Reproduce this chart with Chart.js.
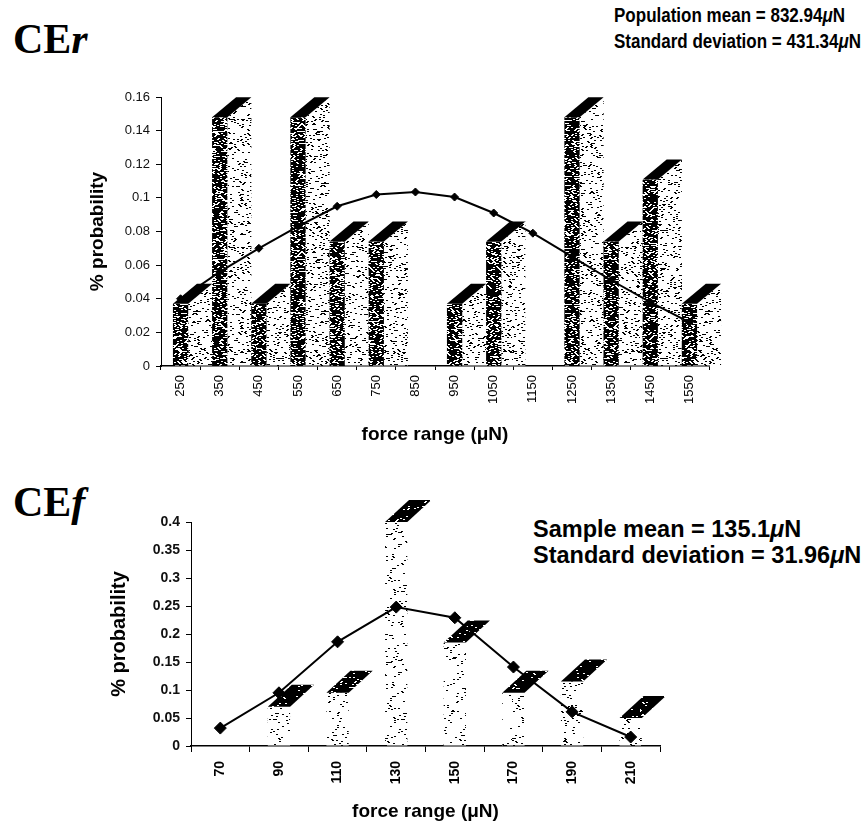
<!DOCTYPE html>
<html>
<head>
<meta charset="utf-8">
<title>Force distributions</title>
<script src="https://cdn.jsdelivr.net/npm/chart.js@4.4.1/dist/chart.umd.min.js"></script>
<style>
  html, body { margin: 0; padding: 0; background: #fff; }
  #page { position: relative; width: 866px; height: 825px; overflow: hidden; font-family: "Liberation Sans", Arial, sans-serif; color: #000; }
  .panelTag { position: absolute; left: 13px; font-family: "Liberation Serif", "Times New Roman", serif; font-weight: bold; font-size: 42px; line-height: 1; }
  .stats { position: absolute; font-weight: bold; white-space: nowrap; }
  .statsR { left: 614px; top: 2px; font-size: 21px; line-height: 26px; transform: scaleX(0.81); transform-origin: left top; }
  .statsF { left: 533px; top: 516px; font-size: 23.5px; line-height: 26px; }
  canvas { position: absolute; left: 0; }
</style>
</head>
<body>
<div id="page">
  <div class="panelTag" style="top:18px">CE<i>r</i></div>
  <div class="stats statsR">Population mean = 832.94<i>μ</i>N<br>Standard deviation = 431.34<i>μ</i>N</div>
  <canvas id="chartCEr" width="866" height="460" style="top:0"></canvas>

  <div class="panelTag" style="top:481px">CE<i>f</i></div>
  <div class="stats statsF">Sample mean = 135.1<i>μ</i>N<br>Standard deviation = 31.96<i>μ</i>N</div>
  <canvas id="chartCEf" width="866" height="365" style="top:460px"></canvas>
</div>

<script>
/* CEr: force bins, observed probability and fitted normal curve */
const binsR = ['250', '350', '450', '550', '650', '750', '850', '950', '1050', '1150', '1250', '1350', '1450', '1550'];
const probR = [0.037, 0.148, 0.037, 0.148, 0.074, 0.074, 0, 0.037, 0.074, 0, 0.148, 0.074, 0.111, 0.037];
const curveR = [0.040, 0.056, 0.070, 0.083, 0.095, 0.102, 0.1035, 0.1005, 0.091, 0.079, 0.065, 0.051, 0.038, 0.026];

/* CEf */
const binsF = ['70', '90', '110', '130', '150', '170', '190', '210'];
const probF = [0, 0.07, 0.095, 0.4, 0.185, 0.095, 0.115, 0.05];
const curveF = [0.032, 0.095, 0.186, 0.248, 0.229, 0.141, 0.061, 0.016];

Chart.defaults.font.family = '"Liberation Sans", Arial, sans-serif';
Chart.defaults.color = '#000';

/* deterministic speckle texture for the printed look of the bars */
function mix(h) {
    h ^= h >>> 16;
    h = Math.imul(h, 0x7feb352d);
    h ^= h >>> 15;
    h = Math.imul(h, 0x846ca68b);
    h ^= h >>> 16;
    return h >>> 0;
}

function hash(x, y, seed) {
    return mix(x + mix(y + mix(seed))) / 4294967296;
}

function stipple(bg, ink, density, seed) {
    const size = 128;
    const c = document.createElement('canvas');
    c.width = c.height = size;
    const g = c.getContext('2d');
    const img = g.createImageData(size, size);
    for (let y = 0; y < size; y++) {
        for (let x = 0; x < size; x++) {
            const on = hash((x + (y % 2)) >> 1, y, seed) < density;
            const v = on ? ink : bg;
            const i = (y * size + x) * 4;
            img.data[i] = img.data[i + 1] = img.data[i + 2] = v;
            img.data[i + 3] = 255;
        }
    }
    g.putImageData(img, 0, 0);
    return g.createPattern(c, 'repeat');
}

/* draws a side face and a slanted top on every bar */
const bar3d = {
    id: 'bar3d',
    beforeDatasetsDraw(chart, args, opts) {
        if (!opts.sideFill) return;
        const ctx = chart.ctx;
        chart.getSortedVisibleDatasetMetas().forEach(meta => {
            if (meta.type !== 'bar') return;
            meta.data.forEach(bar => {
                const { x, y, base, width } = bar.getProps(['x', 'y', 'base', 'width'], true);
                if (base - y < 0.5) return;
                const xr = x + width / 2;
                ctx.save();
                ctx.fillStyle = opts.sideFill;
                ctx.beginPath();
                ctx.moveTo(xr, y);
                ctx.lineTo(xr + opts.dx, y - opts.dy);
                ctx.lineTo(xr + opts.dx, base);
                ctx.lineTo(xr, base);
                ctx.closePath();
                ctx.fill();
                ctx.restore();
            });
        });
    },
    afterDatasetDraw(chart, args, opts) {
        if (args.meta.type !== 'bar') return;
        const ctx = chart.ctx;
        args.meta.data.forEach(bar => {
            const { x, y, base, width } = bar.getProps(['x', 'y', 'base', 'width'], true);
            if (base - y < 0.5) return;
            const xl = x - width / 2, xr = x + width / 2;
            ctx.save();
            ctx.fillStyle = opts.topFill;
            ctx.beginPath();
            ctx.moveTo(xl, y);
            ctx.lineTo(xr, y);
            ctx.lineTo(xr + opts.dx, y - opts.dy);
            ctx.lineTo(xl + opts.dx, y - opts.dy);
            ctx.closePath();
            ctx.fill();
            ctx.restore();
        });
    }
};

const tickText = v => String(+Number(v).toFixed(2));

function buildChart(id, cfg) {
    return new Chart(document.getElementById(id), {
        data: {
            labels: cfg.labels,
            datasets: [{
                type: 'line',
                data: cfg.curve,
                order: 0,
                borderColor: '#000',
                borderWidth: 2,
                tension: 0,
                pointStyle: 'rectRot',
                pointRadius: cfg.pointRadius,
                pointBackgroundColor: '#000',
                pointBorderColor: '#000',
                pointBorderWidth: 1
            }, {
                type: 'bar',
                data: cfg.probs,
                order: 1,
                backgroundColor: cfg.frontFill,
                borderWidth: 0,
                barPercentage: cfg.barPct,
                categoryPercentage: 1
            }]
        },
        options: {
            responsive: false,
            animation: false,
            devicePixelRatio: 1,
            layout: { padding: cfg.padding },
            plugins: {
                legend: { display: false },
                tooltip: { enabled: false },
                bar3d: cfg.faces
            },
            scales: {
                x: {
                    type: 'category',
                    offset: true,
                    border: { display: true, color: '#000', width: 1.5 },
                    grid: { display: true, drawOnChartArea: false, offset: true, tickLength: cfg.xTick, color: '#000' },
                    ticks: {
                        autoSkip: false,
                        minRotation: 90,
                        maxRotation: 90,
                        padding: cfg.xPad,
                        color: '#000',
                        font: cfg.xFont
                    },
                    title: {
                        display: true,
                        text: 'force range (μN)',
                        color: '#000',
                        padding: 0,
                        font: { size: 19, weight: 'bold' }
                    },
                    afterFit: s => { s.height = cfg.xHeight; }
                },
                y: {
                    min: 0,
                    max: cfg.yMax,
                    border: { display: true, color: '#000', width: 1 },
                    grid: { display: true, drawOnChartArea: false, tickLength: 5, color: '#000' },
                    ticks: {
                        stepSize: cfg.yStep,
                        padding: 6,
                        color: '#111',
                        font: cfg.yFont,
                        callback: tickText
                    },
                    title: {
                        display: true,
                        text: '% probability',
                        color: '#000',
                        padding: 0,
                        font: { size: cfg.yTitleSize, weight: 'bold' }
                    },
                    afterFit: s => { s.width = cfg.yWidth; }
                }
            }
        },
        plugins: [bar3d]
    });
}

buildChart('chartCEr', {
    labels: binsR,
    probs: probR,
    curve: curveR,
    pointRadius: 4,
    barPct: 0.39,
    frontFill: stipple(0, 255, 0.28, 7),
    faces: { dx: 24, dy: 20, sideFill: stipple(255, 0, 0.13, 11), topFill: '#000' },
    padding: { left: 86, right: 157, top: 97, bottom: 14 },
    xTick: 4, xPad: 5, xHeight: 80,
    xFont: { size: 13 },
    yMax: 0.16, yStep: 0.02, yWidth: 75,
    yFont: { size: 13 },
    yTitleSize: 19
});

buildChart('chartCEf', {
    labels: binsF,
    probs: probF,
    curve: curveF,
    pointRadius: 6,
    barPct: 0.38,
    frontFill: stipple(255, 0, 0.07, 23),
    faces: { dx: 24, dy: 22, topFill: stipple(0, 255, 0.08, 31) },
    padding: { left: 107, right: 206, top: 62, bottom: 2 },
    xTick: 6, xPad: 9, xHeight: 77,
    xFont: { size: 14, weight: 'bold' },
    yMax: 0.4, yStep: 0.05, yWidth: 84,
    yFont: { size: 14, weight: 'bold' },
    yTitleSize: 20
});
</script>
</body>
</html>
